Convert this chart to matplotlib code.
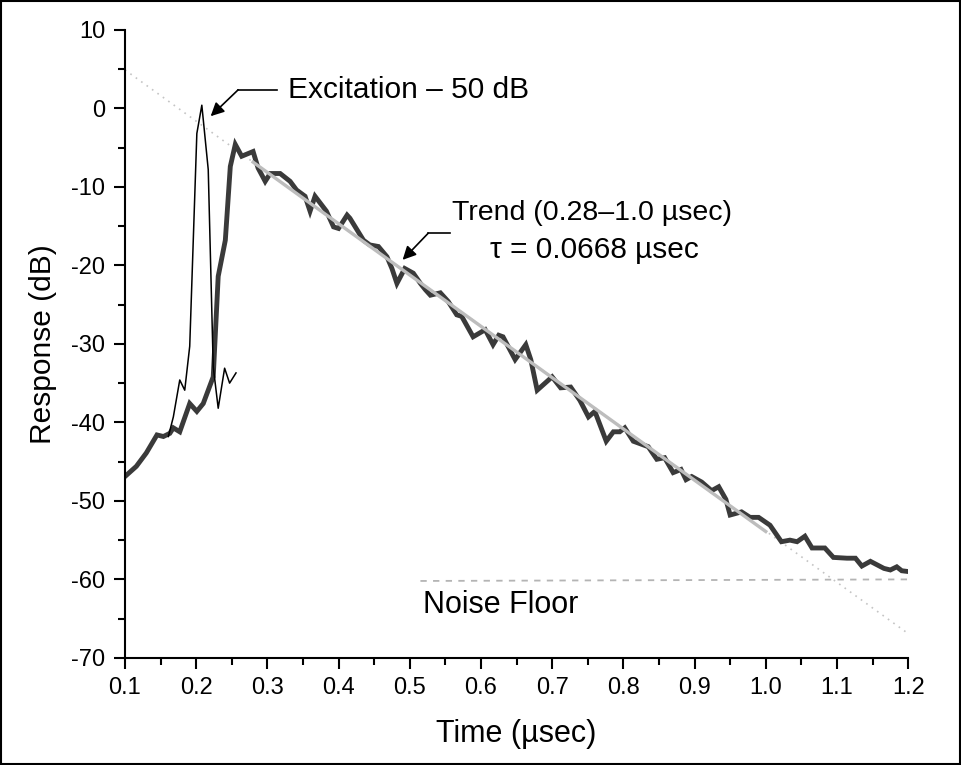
#Libraries
import numpy as np
import matplotlib
matplotlib.use('Agg')
import matplotlib.pyplot as plt
from matplotlib.patches import Rectangle

plt.rcParams['font.family'] = ['Liberation Sans', 'DejaVu Sans']
plt.rcParams['axes.unicode_minus'] = False

# Measured response (thick dark curve)
resp_t = [0.100, 0.116, 0.130, 0.145, 0.154, 0.163, 0.168, 0.177, 0.191, 0.201,
          0.210, 0.224, 0.231, 0.241, 0.248, 0.255, 0.264, 0.280, 0.287, 0.297,
          0.304, 0.318, 0.332, 0.341, 0.353, 0.360, 0.367, 0.383, 0.393, 0.400,
          0.412, 0.416, 0.435, 0.444, 0.456, 0.468, 0.475, 0.482, 0.493, 0.505,
          0.515, 0.522, 0.529, 0.543, 0.554, 0.566, 0.573, 0.589, 0.606, 0.617,
          0.625, 0.631, 0.648, 0.663, 0.670, 0.679, 0.700, 0.712, 0.726, 0.739,
          0.751, 0.760, 0.776, 0.786, 0.795, 0.802, 0.814, 0.835, 0.847, 0.858,
          0.870, 0.881, 0.888, 0.896, 0.910, 0.924, 0.934, 0.944, 0.950, 0.966,
          0.978, 0.990, 1.006, 1.022, 1.034, 1.044, 1.055, 1.065, 1.083, 1.095,
          1.114, 1.126, 1.135, 1.147, 1.166, 1.175, 1.184, 1.191, 1.200]
resp_db = [-46.9, -45.6, -43.9, -41.6, -41.8, -41.4, -40.7, -41.2, -37.6, -38.6,
           -37.6, -34.2, -21.4, -16.8, -7.4, -4.6, -6.1, -5.5, -7.6, -9.3,
           -8.3, -8.3, -9.3, -10.4, -11.2, -13.1, -11.2, -13.1, -15.1, -15.3,
           -13.6, -14.0, -16.8, -17.4, -17.6, -18.9, -20.4, -22.3, -20.4, -21.0,
           -22.3, -23.1, -23.8, -23.5, -24.6, -26.3, -26.5, -29.1, -28.2, -30.1,
           -28.9, -29.1, -32.0, -30.1, -32.0, -35.9, -34.2, -35.6, -35.5, -37.2,
           -39.3, -38.6, -42.4, -41.2, -41.2, -40.7, -42.4, -43.1, -44.7, -44.5,
           -46.4, -46.0, -47.3, -46.9, -47.6, -48.7, -48.2, -49.8, -51.8, -51.4,
           -52.1, -52.1, -53.1, -55.2, -55.0, -55.2, -54.5, -56.0, -56.0, -57.2,
           -57.3, -57.3, -58.3, -57.7, -58.6, -58.8, -58.4, -58.9, -59.0]

# Excitation pulse (thin black curve, shifted by -50 dB)
exc_t = [0.161, 0.168, 0.177, 0.184, 0.191, 0.201, 0.208, 0.217, 0.224, 0.231,
         0.240, 0.247, 0.256]
exc_db = [-41.8, -39.3, -34.6, -35.9, -30.3, -3.2, 0.4, -7.8, -32.9, -38.2,
          -33.1, -35.0, -33.7]

# Exponential trend fit (straight in dB)
trend_t = [0.28, 1.0]
trend_db = [-6.85, -53.9]
# Extrapolated trend (dotted)
extrap_t = [0.1, 1.2]
extrap_db = [4.9, -66.9]
# Noise floor
noise_t = [0.515, 1.2]
noise_db = [-60.2, -60.0]

fig = plt.figure(figsize=(9.61, 7.65), dpi=100)
ax = fig.add_axes([0.130, 0.140, 0.815, 0.821])

# Plot the curves
ax.plot(extrap_t, extrap_db, color='#c4c4c4', linewidth=1.2, linestyle=(0, (1, 3)))
ax.plot(noise_t, noise_db, color='#b4b4b4', linewidth=1.3, linestyle=(0, (3.5, 3.5)))
ax.plot(resp_t, resp_db, color='#3a3a3a', linewidth=3.5, solid_joinstyle='miter')
ax.plot(trend_t, trend_db, color='#bdbdbd', linewidth=2.4)
ax.plot(exc_t, exc_db, color='black', linewidth=1.1)

# Annotations
ax.plot([0.259, 0.313], [2.36, 2.36], color='black', linewidth=1.2)
ax.annotate('', xy=(0.2204, -1.0), xytext=(0.259, 2.36),
            arrowprops=dict(arrowstyle='-|>', color='black', lw=1.2,
                            mutation_scale=20, shrinkA=0, shrinkB=0))
ax.text(0.329, 2.36, 'Excitation \u2013 50 dB', fontsize=21.5, va='center', ha='left')

ax.plot([0.526, 0.557], [-15.9, -15.9], color='black', linewidth=1.2)
ax.annotate('', xy=(0.490, -19.3), xytext=(0.526, -15.9),
            arrowprops=dict(arrowstyle='-|>', color='black', lw=1.2,
                            mutation_scale=20, shrinkA=0, shrinkB=0))
ax.text(0.756, -13.3, 'Trend (0.28\u20131.0 \u00b5sec)', fontsize=20.5, va='center', ha='center')
ax.text(0.760, -18.0, '\u03c4 = 0.0668 \u00b5sec', fontsize=21.5, va='center', ha='center')

ax.text(0.519, -63.2, 'Noise Floor', fontsize=22, va='center', ha='left')

# Axes styling
ax.set_xlim(0.1, 1.2)
ax.set_ylim(-70, 10)
ax.set_xticks(np.arange(0.1, 1.21, 0.1))
ax.set_xticklabels(['0.1', '0.2', '0.3', '0.4', '0.5', '0.6', '0.7', '0.8', '0.9', '1.0', '1.1', '1.2'])
ax.set_xticks(np.arange(0.15, 1.2, 0.1), minor=True)
ax.set_yticks(np.arange(-70, 11, 10))
ax.set_yticks(np.arange(-65, 10, 10), minor=True)
for s in ['top', 'right']:
    ax.spines[s].set_visible(False)
for s in ['left', 'bottom']:
    ax.spines[s].set_linewidth(1.5)
ax.tick_params(which='major', direction='out', length=8, width=1.5, labelsize=17, pad=6)
ax.tick_params(which='minor', direction='out', length=5, width=1.5)
ax.set_xlabel('Time (\u00b5sec)', fontsize=22, labelpad=14)
ax.set_ylabel('Response (dB)', fontsize=21.5, labelpad=10)

# Figure border
fig.patches.append(Rectangle((0.001, 0.001), 0.998, 0.998, transform=fig.transFigure,
                             fill=False, edgecolor='black', linewidth=1.5))

fig.savefig('out.png', dpi=100)
